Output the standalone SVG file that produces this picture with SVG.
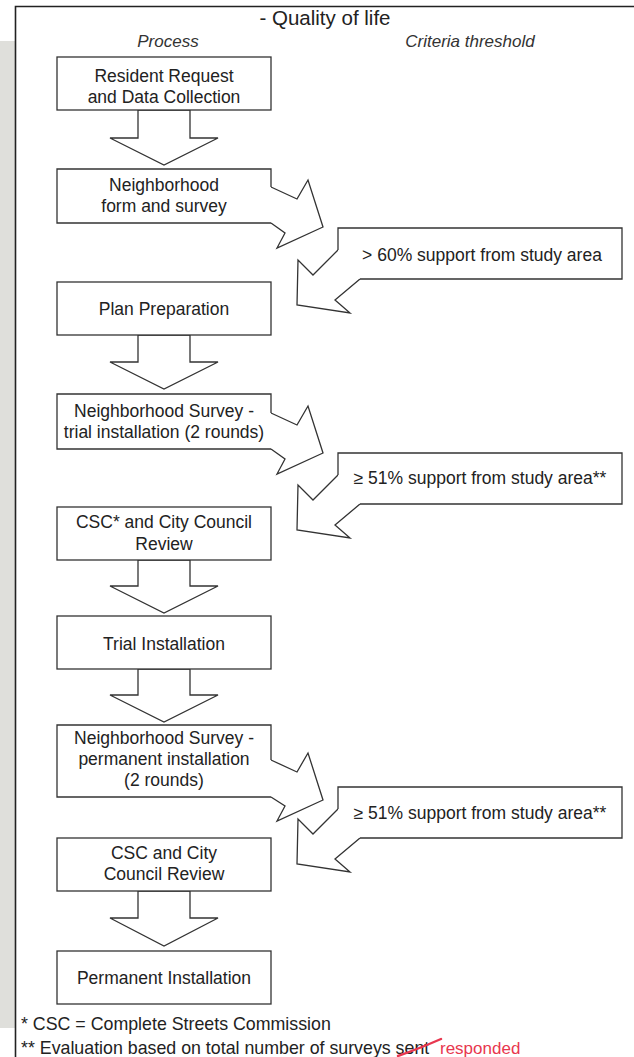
<svg xmlns="http://www.w3.org/2000/svg" width="634" height="1057" viewBox="0 0 634 1057">
<style>
  .t { font-family: "Liberation Sans", Arial, sans-serif; font-size: 17.5px; fill: #222; text-anchor: middle; }
  .h { font-family: "Liberation Sans", Arial, sans-serif; font-size: 17px; fill: #333; text-anchor: middle; font-style: italic; }
  .fn { font-family: "Liberation Sans", Arial, sans-serif; font-size: 17.8px; fill: #222; }
  .box { fill: #fff; stroke: #333; stroke-width: 1.3; }
  .open { fill: none; stroke: #333; stroke-width: 1.3; }
  .arr { fill: #fff; stroke: #333; stroke-width: 1.3; stroke-linejoin: miter; }
</style>
<rect x="0" y="0" width="634" height="1057" fill="#fff"/>
<rect x="0" y="41" width="15" height="987" fill="#dfdfdb"/>
<path d="M15.5,1057 V6.5 H634" fill="none" stroke="#222" stroke-width="1.6"/>

<text class="t" x="325" y="25" style="font-size:20.5px">- Quality of life</text>
<text class="h" x="168" y="47">Process</text>
<text class="h" x="470" y="47">Criteria threshold</text>

<g id="connectors">
  <!-- down arrows -->
  <polygon class="arr" points="138,110 138,138 110,138 164,165 218,138 190,138 190,110"/>
  <polygon class="arr" points="138,335 138,362 110,362 164,389 218,362 190,362 190,335"/>
  <polygon class="arr" points="138,560 138,586 110,586 164,613 218,586 190,586 190,560"/>
  <polygon class="arr" points="138,669 138,695 110,695 164,722 218,695 190,695 190,669"/>
  <polygon class="arr" points="138,891 138,918 110,918 164,946 218,918 190,918 190,891"/>
  <!-- side arrows from process boxes to criteria -->
  <polyline class="arr" points="271,187 297,199 308,180 323,227 277,248 285,233 271,223"/>
  <polyline class="arr" points="271,413 297,425 308,406 323,453 277,474 285,459 271,449"/>
  <polyline class="arr" points="271,760 297,772 308,753 323,800 277,821 285,806 271,797"/>
  <!-- arrows from criteria back to process -->
  <polyline class="arr" points="338,250 313,275 298,260 297,305 350,313 335,300 360,279"/>
  <polyline class="arr" points="338,475 313,500 298,485 297,530 350,538 335,525 360,504"/>
  <polyline class="arr" points="338,809 313,834 298,819 297,864 350,872 335,859 360,838"/>
</g>

<g id="n1">
  <rect class="box" x="57" y="57" width="214" height="53"/>
  <text class="t" x="164" y="82">Resident Request</text>
  <text class="t" x="164" y="103">and Data Collection</text>
</g>
<g id="n2">
  <path class="box" d="M271,187 V169 H57 V223 H271"/>
  <text class="t" x="164" y="191">Neighborhood</text>
  <text class="t" x="164" y="212">form and survey</text>
</g>
<g id="c1">
  <path class="box" d="M338,250 V228 H622 V279 H360"/>
  <text class="t" x="482" y="261">&gt; 60% support from study area</text>
</g>
<g id="n3">
  <rect class="box" x="57" y="282" width="214" height="53"/>
  <text class="t" x="164" y="315">Plan Preparation</text>
</g>
<g id="n4">
  <path class="box" d="M271,413 V394 H57 V449 H271"/>
  <text class="t" x="164" y="417">Neighborhood Survey -</text>
  <text class="t" x="164" y="438">trial installation (2 rounds)</text>
</g>
<g id="c2">
  <path class="box" d="M338,475 V453 H622 V504 H360"/>
  <text class="t" x="480" y="484">≥ 51% support from study area**</text>
</g>
<g id="n5">
  <rect class="box" x="57" y="507" width="214" height="53"/>
  <text class="t" x="164" y="528">CSC* and City Council</text>
  <text class="t" x="164" y="550">Review</text>
</g>
<g id="n6">
  <rect class="box" x="57" y="616" width="214" height="53"/>
  <text class="t" x="164" y="650">Trial Installation</text>
</g>
<g id="n7">
  <path class="box" d="M271,760 V725 H57 V797 H271"/>
  <text class="t" x="164" y="744">Neighborhood Survey -</text>
  <text class="t" x="164" y="765">permanent installation</text>
  <text class="t" x="164" y="786">(2 rounds)</text>
</g>
<g id="c3">
  <path class="box" d="M338,809 V787 H622 V838 H360"/>
  <text class="t" x="480" y="819">≥ 51% support from study area**</text>
</g>
<g id="n8">
  <rect class="box" x="57" y="838" width="214" height="53"/>
  <text class="t" x="164" y="859">CSC and City</text>
  <text class="t" x="164" y="880">Council Review</text>
</g>
<g id="n9">
  <rect class="box" x="57" y="951" width="214" height="53"/>
  <text class="t" x="164" y="984">Permanent Installation</text>
</g>

<g id="footnotes">
  <text class="fn" x="21" y="1030">* CSC = Complete Streets Commission</text>
  <text class="fn" x="21" y="1054">** Evaluation based on total number of surveys sent <tspan x="440" fill="#e8374f" style="font-size:17px">responded</tspan></text>
  <path d="M398,1056 Q418,1049 441,1039" fill="none" stroke="#e8374f" stroke-width="2.4" stroke-linecap="round"/>
</g>
</svg>
